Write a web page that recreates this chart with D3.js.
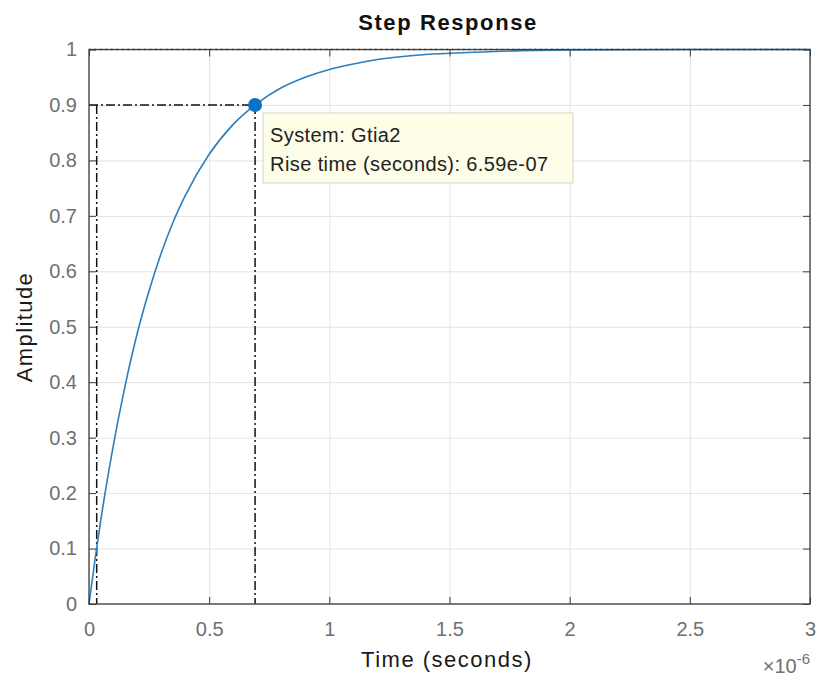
<!DOCTYPE html>
<html>
<head>
<meta charset="utf-8">
<script src="https://cdn.jsdelivr.net/npm/d3@7"></script>
<style>
  body { margin: 0; background: #fff; }
  svg text { font-family: "Liberation Sans", Arial, sans-serif; }
  .tick-axis text { fill: #707070; font-size: 20px; }
  .tick-axis path { display: none; }
  .tick-axis line { stroke: #3c3c3c; }
  .grid line { stroke: #e3e3e3; }
  .grid path { display: none; }
</style>
</head>
<body>
<svg id="chart"></svg>
<script>
// time in microseconds (axis carries the x10^-6 multiplier)
const timeUs = [0, 0.025, 0.05, 0.1, 0.15, 0.2, 0.25, 0.3, 0.35, 0.4, 0.5, 0.6, 0.7, 0.8, 0.9, 1.0, 1.1, 1.2, 1.4, 1.6, 1.8, 2.0, 2.5, 3.0];
const amplitude = [0, 0.080, 0.154, 0.283, 0.393, 0.487, 0.565, 0.632, 0.689, 0.736, 0.811, 0.865, 0.903, 0.931, 0.950, 0.964, 0.974, 0.982, 0.991, 0.995, 0.998, 0.999, 1.0, 1.0];

const xTicks = [0, 0.5, 1, 1.5, 2, 2.5, 3];
const xTickLabels = ['0', '0.5', '1', '1.5', '2', '2.5', '3'];
const yTicks = [0, 0.1, 0.2, 0.3, 0.4, 0.5, 0.6, 0.7, 0.8, 0.9, 1];
const yTickLabels = ['0', '0.1', '0.2', '0.3', '0.4', '0.5', '0.6', '0.7', '0.8', '0.9', '1'];

// rise time characteristic: 10% and 90% crossings
const riseLevels = [0.1, 0.9];
const riseTimesUs = [0.032, 0.691];
const steadyState = 1;
const tipLines = ['System: Gtia2', 'Rise time (seconds): 6.59e-07'];

class StepResponseChart {
  constructor(_config) {
    this.config = {
      parentElement: _config.parentElement,
      containerWidth: _config.containerWidth || 817,
      containerHeight: _config.containerHeight || 679,
      margin: {top: 49.5, right: 7, bottom: 75, left: 89}
    };
    this.initVis();
  }

  initVis() {
    let vis = this;
    vis.width = vis.config.containerWidth - vis.config.margin.left - vis.config.margin.right;
    vis.height = vis.config.containerHeight - vis.config.margin.top - vis.config.margin.bottom;

    vis.svg = d3.select(vis.config.parentElement)
      .attr('width', vis.config.containerWidth)
      .attr('height', vis.config.containerHeight);

    vis.chart = vis.svg.append('g')
      .attr('transform', `translate(${vis.config.margin.left},${vis.config.margin.top})`);

    vis.xScale = d3.scaleLinear().domain([0, 3]).range([0, vis.width]);
    vis.yScale = d3.scaleLinear().domain([0, 1]).range([vis.height, 0]);

    vis.renderVis();
  }

  renderVis() {
    let vis = this;
    const x = vis.xScale, y = vis.yScale;

    // grid
    vis.chart.append('g').attr('class', 'grid')
      .attr('transform', `translate(0,${vis.height})`)
      .call(d3.axisBottom(x).tickValues(xTicks).tickSize(-vis.height).tickFormat(''));
    vis.chart.append('g').attr('class', 'grid')
      .call(d3.axisLeft(y).tickValues(yTicks).tickSize(-vis.width).tickFormat(''));

    // steady state dotted line
    vis.chart.append('line')
      .attr('x1', x(0)).attr('x2', x(3))
      .attr('y1', y(steadyState)).attr('y2', y(steadyState))
      .attr('stroke', '#111').attr('stroke-width', 1.5)
      .attr('stroke-dasharray', '1.5,4');

    // rise time guides
    const dashDot = '9,3,2,3';
    vis.chart.append('line')
      .attr('x1', x(0)).attr('x2', x(riseTimesUs[1]))
      .attr('y1', y(riseLevels[1])).attr('y2', y(riseLevels[1]))
      .attr('stroke', '#111').attr('stroke-width', 1.5).attr('stroke-dasharray', dashDot);
    riseTimesUs.forEach(t => {
      vis.chart.append('line')
        .attr('x1', x(t)).attr('x2', x(t))
        .attr('y1', y(riseLevels[1])).attr('y2', y(0))
        .attr('stroke', '#111').attr('stroke-width', 1.5).attr('stroke-dasharray', dashDot);
    });

    // response curve
    const line = d3.line()
      .x((d, i) => x(timeUs[i]))
      .y(d => y(d))
      .curve(d3.curveMonotoneX);
    vis.chart.append('path')
      .datum(amplitude)
      .attr('d', line)
      .attr('fill', 'none')
      .attr('stroke', '#2b7fbf')
      .attr('stroke-width', 1.6);

    // axes, ticks inward on all four sides
    const xAxisG = vis.chart.append('g').attr('class', 'tick-axis')
      .attr('transform', `translate(0,${vis.height})`)
      .call(d3.axisBottom(x).tickValues(xTicks).tickSize(-7).tickPadding(18)
        .tickFormat((d, i) => xTickLabels[i]));
    vis.chart.append('g').attr('class', 'tick-axis')
      .call(d3.axisLeft(y).tickValues(yTicks).tickSize(-7).tickPadding(12)
        .tickFormat((d, i) => yTickLabels[i]));
    vis.chart.append('g').attr('class', 'tick-axis')
      .call(d3.axisTop(x).tickValues(xTicks).tickSize(-7).tickFormat(''));
    vis.chart.append('g').attr('class', 'tick-axis')
      .attr('transform', `translate(${vis.width},0)`)
      .call(d3.axisRight(y).tickValues(yTicks).tickSize(-7).tickFormat(''));
    xAxisG.selectAll('text').attr('dy', '0.71em');

    vis.chart.append('rect')
      .attr('width', vis.width).attr('height', vis.height)
      .attr('fill', 'none').attr('stroke', '#3c3c3c').attr('stroke-width', 1.3);

    // rise time marker
    vis.chart.append('circle')
      .attr('cx', x(riseTimesUs[1])).attr('cy', y(riseLevels[1]))
      .attr('r', 7).attr('fill', '#0a72c4');

    // data tip
    const tipX = x(riseTimesUs[1]) + 8, tipY = y(riseLevels[1]) + 8;
    const tip = vis.chart.append('g').attr('transform', `translate(${tipX},${tipY})`);
    tip.append('rect')
      .attr('width', 310).attr('height', 70)
      .attr('fill', '#fdfde8').attr('stroke', '#d6d6c8');
    tip.selectAll('text').data(tipLines).join('text')
      .attr('x', 7).attr('y', (d, i) => 29 + i * 29)
      .attr('font-size', 20).attr('letter-spacing', 0.4).attr('fill', '#222')
      .text(d => d);

    // titles
    vis.svg.append('text')
      .attr('x', 448).attr('y', 30)
      .attr('text-anchor', 'middle').attr('font-size', 22).attr('font-weight', 'bold')
      .attr('letter-spacing', 1.6).attr('fill', '#111')
      .text('Step Response');
    vis.svg.append('text')
      .attr('x', 447).attr('y', 667)
      .attr('text-anchor', 'middle').attr('font-size', 22)
      .attr('letter-spacing', 1.5).attr('fill', '#1a1a1a')
      .text('Time (seconds)');
    vis.svg.append('text')
      .attr('transform', 'translate(32,327) rotate(-90)')
      .attr('text-anchor', 'middle').attr('font-size', 22)
      .attr('letter-spacing', 1.4).attr('fill', '#1a1a1a')
      .text('Amplitude');

    // exponent label
    const expo = vis.svg.append('text')
      .attr('x', 810).attr('y', 673)
      .attr('text-anchor', 'end').attr('font-size', 20).attr('fill', '#707070');
    expo.append('tspan').attr('font-size', 20).text('\u00d7');
    expo.append('tspan').text('10');
    expo.append('tspan').attr('dy', -9).attr('font-size', 15).text('-6');
  }
}

new StepResponseChart({parentElement: '#chart'});
</script>
</body>
</html>
